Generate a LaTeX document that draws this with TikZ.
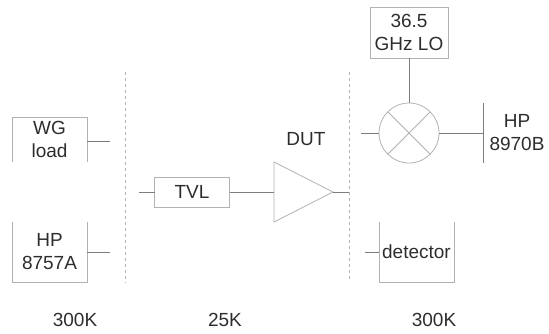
\documentclass[tikz,border=0pt]{standalone}
\usepackage{fontspec}
\setmainfont{Liberation Sans}
\usetikzlibrary{positioning, shapes.geometric}
\definecolor{ink}{RGB}{45, 45, 45}
\definecolor{wire}{RGB}{125, 125, 125}
\definecolor{pale}{RGB}{178, 178, 178}

\begin{document}
\begin{tikzpicture}[
  x=1pt, y=-1pt,
  node distance=15pt and 15pt,
  every node/.style={outer sep=0pt},
  lbl/.style={font=\fontsize{19}{23}\selectfont, text=ink, align=center, inner sep=0pt},
  bx/.style={lbl, minimum width=75pt, minimum height=45pt},
  bxb/.style={bx, minimum height=60pt},
  shut/.style={draw=pale, line width=0.8pt},
  ln/.style={draw=wire, line width=0.8pt},
  sep/.style={draw=pale, line width=0.8pt, dashed},
]
  \useasboundingbox (0,0) rectangle (549,333);

  \node[bx] (wg) at (49.5,139.5) {WG\\load};
  \node[bxb] (hp) at (49.5,252) {HP\\8757A};
  \node[bx, draw=pale, line width=0.8pt, minimum height=30pt] (tvl) at (192,192) {TVL};
  \node[isosceles triangle, isosceles triangle apex angle=54, isosceles triangle stretches,
        shut, inner sep=0pt, minimum width=60pt, minimum height=59pt, anchor=apex] (dut) at (333,192) {};
  \node[lbl] (dutl) at (306,139) {DUT};
  \node[circle, shut, minimum size=60pt, inner sep=0pt] (mix) at (409,133) {};
  \node[bx, draw=pale, line width=0.8pt, minimum width=78pt, minimum height=51pt] (lo) at (409,32.5) {36.5\\GHz LO};
  \node[lbl] (nf) at (517,133) {HP\\8970B};
  \node[bxb] (det) at (416.5,252) {detector};
  \node[lbl] (t1) at (75,320) {300K};
  \node[lbl] (t2) at (225,320) {25K};
  \node[lbl] (t3) at (434,320) {300K};

  \coordinate (s1a) at (125,72);
  \coordinate (s1b) at (125,283);
  \coordinate (s2a) at (349,72);
  \coordinate (s2b) at (349,282);
  \coordinate (wgend) at (110,141.5);
  \coordinate (hpend) at (110,252.5);
  \coordinate (tvlin) at (139,192);
  \coordinate (dutout) at (349,192);
  \coordinate (mixin) at (361,133);
  \coordinate (nfa) at (483,103);
  \coordinate (nfb) at (483,163);
  \coordinate (nfm) at (483,133);
  \coordinate (detin) at (365,252);

  \draw[sep] (s1a) -- (s1b);
  \draw[sep] (s2a) -- (s2b);

  \draw[shut] (wg.south west) -- (wg.north west) -- (wg.north east) -- (wg.south east);
  \draw[shut] (hp.north west) -- (hp.south west) -- (hp.south east) -- (hp.north east);
  \draw[shut] (det.north west) -- (det.south west) -- (det.south east) -- (det.north east);
  \draw[shut] (mix.45) -- (mix.225);
  \draw[shut] (mix.135) -- (mix.315);
  \draw[ln] (nfa) -- (nfb);

  \draw[ln] (wg.east |- wgend) -- (wgend);
  \draw[ln] (hp.east |- hpend) -- (hpend);
  \draw[ln] (tvlin) -- (tvl);
  \draw[ln] (tvl) -- (dut.lower side);
  \draw[ln] (dut.apex) -- (dutout);
  \draw[ln] (lo) -- (mix);
  \draw[ln] (mixin) -- (mix);
  \draw[ln] (mix) -- (nfm);
  \draw[ln] (detin) -- (det.west);
\end{tikzpicture}
\end{document}
